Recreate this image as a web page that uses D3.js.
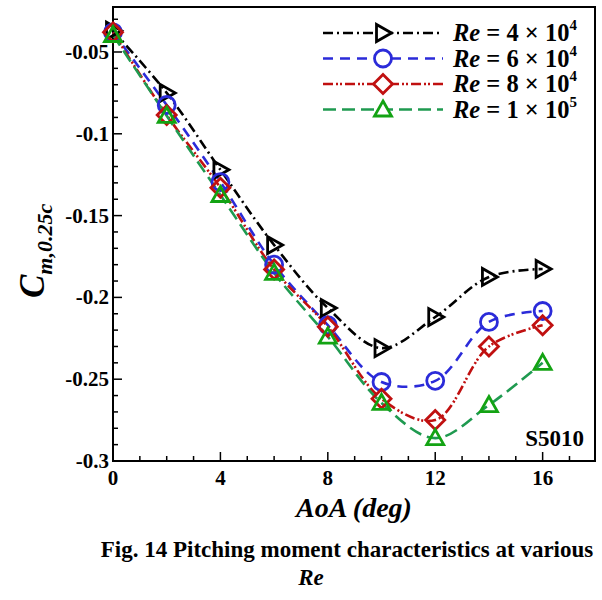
<!DOCTYPE html>
<html>
<head>
<meta charset="utf-8">
<script src="https://cdn.jsdelivr.net/npm/d3@7"></script>
<style>
  body { margin: 0; background: #fff; }
  text { font-family: "Liberation Serif", "Times New Roman", serif; font-weight: bold; }
</style>
</head>
<body>
<div id="chart"></div>
<script>
// angle of attack (deg)
const aoa = [0, 2, 4, 6, 8, 10, 12, 14, 16];

// Cm,0.25c for each Reynolds number
const cmRe4e4 = [-0.037, -0.075, -0.122, -0.168, -0.2065, -0.231, -0.212, -0.1875, -0.1826];
const cmRe6e4 = [-0.038, -0.0824, -0.1295, -0.180, -0.217, -0.2517, -0.2510, -0.215, -0.2083];
const cmRe8e4 = [-0.038, -0.0885, -0.133, -0.183, -0.218, -0.262, -0.275, -0.230, -0.217];
const cmRe1e5 = [-0.0396, -0.089, -0.1374, -0.185, -0.224, -0.2645, -0.286, -0.2658, -0.240];

const reLabels = ["4", "6", "8", "1"];
const reExps = ["4", "4", "4", "5"];

const xTicks = [0, 4, 8, 12, 16];
const yTicks = [-0.05, -0.1, -0.15, -0.2, -0.25, -0.3];
const yTickLabels = ["-0.05", "-0.1", "-0.15", "-0.2", "-0.25", "-0.3"];

const series = [
  { values: cmRe4e4, color: "#000000", dash: "10,4,2,4", marker: "tri-right" },
  { values: cmRe6e4, color: "#2b2bd9", dash: "10,7", marker: "circle" },
  { values: cmRe8e4, color: "#c01010", dash: "10,3,2,2,2,3", marker: "diamond" },
  { values: cmRe1e5, color: "#1f9a50", dash: "13,6", marker: "tri-up" }
];
const markerColors = ["#000000", "#2b2bd9", "#c01010", "#13a313"];

const width = 602, height = 600;
const margin = { left: 113, right: 7, top: 7, bottom: 139 };

const svg = d3.select("#chart").append("svg")
  .attr("width", width)
  .attr("height", height);

const x = d3.scaleLinear().domain([0, 17.95]).range([margin.left, width - margin.right]);
const y = d3.scaleLinear().domain([-0.3, -0.0225]).range([height - margin.bottom, margin.top]);

const x0 = x.range()[0], x1 = x.range()[1];
const y0 = y.range()[0], y1 = y.range()[1];

// minor ticks
const xMinor = d3.range(0, 18, 1);
const yMinor = d3.range(-0.3, -0.02, 0.01);

svg.append("g").selectAll("line").data(xMinor).join("line")
  .attr("x1", d => x(d)).attr("x2", d => x(d))
  .attr("y1", y0).attr("y2", d => y0 - (d % 4 === 0 ? 9 : 5))
  .attr("stroke", "#000").attr("stroke-width", 1.5);

svg.append("g").selectAll("line").data(yMinor).join("line")
  .attr("x1", x0)
  .attr("x2", d => x0 + (Math.abs(Math.round(d * 100)) % 5 === 0 ? 9 : 5))
  .attr("y1", d => y(d)).attr("y2", d => y(d))
  .attr("stroke", "#000").attr("stroke-width", 1.5);

// frame
svg.append("rect")
  .attr("x", x0).attr("y", y1)
  .attr("width", x1 - x0).attr("height", y0 - y1)
  .attr("fill", "none").attr("stroke", "#000").attr("stroke-width", 2);

// tick labels
svg.append("g").selectAll("text").data(xTicks).join("text")
  .attr("x", d => x(d)).attr("y", y0 + 24)
  .attr("text-anchor", "middle").attr("font-size", 21)
  .text(d => d);

svg.append("g").selectAll("text").data(yTicks).join("text")
  .attr("x", x0 - 4).attr("y", d => y(d) + 7)
  .attr("text-anchor", "end").attr("font-size", 21)
  .text((d, i) => yTickLabels[i]);

// axis titles
svg.append("text")
  .attr("x", (x0 + x1) / 2).attr("y", 517)
  .attr("text-anchor", "middle").attr("font-size", 28)
  .attr("font-style", "italic")
  .text("AoA (deg)");

const yt = svg.append("text")
  .attr("transform", "translate(44,298) rotate(-90)")
  .attr("font-style", "italic");
yt.append("tspan").attr("font-size", 35).text("C");
yt.append("tspan").attr("font-size", 22).attr("dy", 8).text("m,0.25c");

// curves
const line = d3.line()
  .x((d, i) => x(aoa[i]))
  .y(d => y(d))
  .curve(d3.curveCatmullRom.alpha(0.5));

function markerPath(type, cx, cy) {
  if (type === "circle") {
    const r = 8.5;
    return `M${cx + r},${cy}A${r},${r} 0 1,1 ${cx - r},${cy}A${r},${r} 0 1,1 ${cx + r},${cy}Z`;
  }
  if (type === "diamond") {
    const r = 9.5;
    return `M${cx},${cy - r}L${cx + r},${cy}L${cx},${cy + r}L${cx - r},${cy}Z`;
  }
  if (type === "tri-up") {
    return `M${cx},${cy - 8.5}L${cx + 8.5},${cy + 6.5}L${cx - 8.5},${cy + 6.5}Z`;
  }
  return `M${cx + 8.5},${cy}L${cx - 6.5},${cy - 8.5}L${cx - 6.5},${cy + 8.5}Z`;
}

series.forEach((s, k) => {
  svg.append("path")
    .datum(s.values)
    .attr("fill", "none")
    .attr("stroke", s.color)
    .attr("stroke-width", 2.6)
    .attr("stroke-dasharray", s.dash)
    .attr("d", line);
});

series.forEach((s, k) => {
  svg.append("g").selectAll("path").data(s.values).join("path")
    .attr("d", (d, i) => markerPath(s.marker, x(aoa[i]), y(d)))
    .attr("fill", "none")
    .attr("stroke", markerColors[k])
    .attr("stroke-width", 2.8);
});

// legend
const legend = svg.append("g");
series.forEach((s, k) => {
  const ly = 33 + k * 25.5;
  legend.append("line")
    .attr("x1", 323).attr("x2", 443).attr("y1", ly).attr("y2", ly)
    .attr("stroke", s.color).attr("stroke-width", 2.6)
    .attr("stroke-dasharray", s.dash);
  legend.append("path")
    .attr("d", markerPath(s.marker, 383, ly))
    .attr("fill", "#fff")
    .attr("stroke", markerColors[k]).attr("stroke-width", 2.8);
  const t = legend.append("text")
    .attr("x", 453).attr("y", ly + 8)
    .attr("font-size", 24.5);
  t.append("tspan").attr("font-style", "italic").text("Re");
  t.append("tspan").text(" = " + reLabels[k] + " \u00d7 10");
  t.append("tspan").attr("font-size", 15).attr("dy", -11).text(reExps[k]);
});

// airfoil label
svg.append("text")
  .attr("x", 584).attr("y", 446)
  .attr("text-anchor", "end").attr("font-size", 23)
  .text("S5010");

// caption
svg.append("text")
  .attr("x", 347).attr("y", 557)
  .attr("text-anchor", "middle").attr("font-size", 23)
  .text("Fig. 14 Pitching moment characteristics at various");
svg.append("text")
  .attr("x", 311).attr("y", 585)
  .attr("text-anchor", "middle").attr("font-size", 23)
  .attr("font-style", "italic")
  .text("Re");
</script>
</body>
</html>
